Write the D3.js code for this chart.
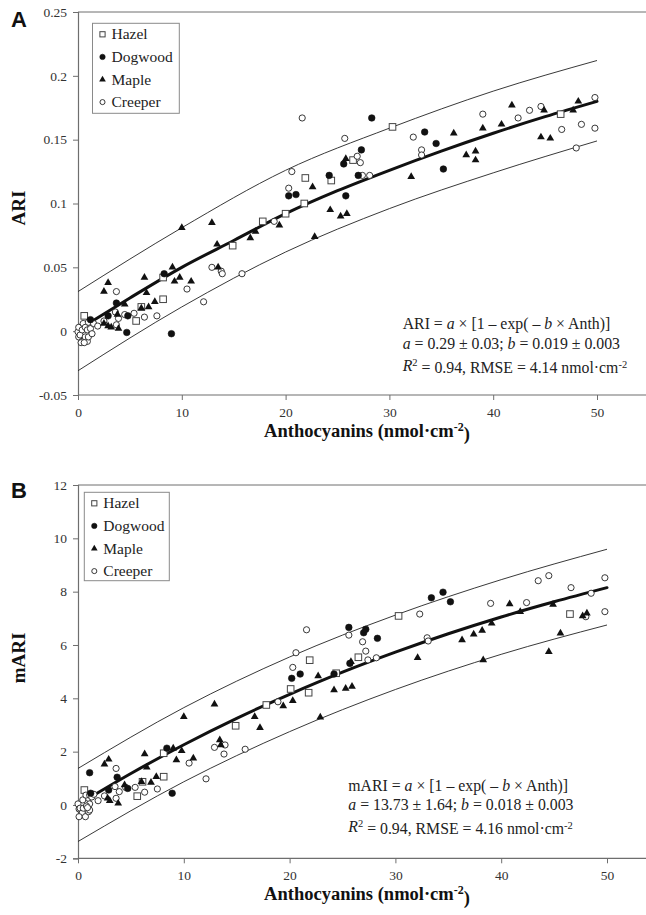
<!DOCTYPE html>
<html><head><meta charset="utf-8">
<script src="https://cdn.jsdelivr.net/npm/d3@7"></script>
<style>
body{margin:0;background:#fff;}
svg{display:block;}
</style></head><body>
<svg id="chart" width="646" height="915"></svg>
<script>
// ---------------- DATA ----------------
const categories = ["Hazel", "Dogwood", "Maple", "Creeper"];
const xTicks = [0, 10, 20, 30, 40, 50];
const ariTicks = [-0.05, 0, 0.05, 0.1, 0.15, 0.2, 0.25];
const ariTickLabels = ["-0.05", "0", "0.05", "0.1", "0.15", "0.2", "0.25"];
const mariTicks = [-2, 0, 2, 4, 6, 8, 10, 12];
const mariTickLabels = ["-2", "0", "2", "4", "6", "8", "10", "12"];

// Panel A (ARI)
const hazelARI = [[0.6,0.012],[5.6,0.008],[6.1,0.019],[8.2,0.042],[8.2,0.025],[14.9,0.067],[17.8,0.086],[20.0,0.092],[21.8,0.100],[21.9,0.120],[24.4,0.118],[26.5,0.134],[30.3,0.160],[46.5,0.170]];
const dogwoodARI = [[1.2,0.009],[2.9,0.012],[3.7,0.022],[4.7,-0.001],[4.8,0.012],[8.3,0.045],[9.0,-0.002],[20.3,0.106],[21.0,0.107],[24.2,0.122],[25.6,0.131],[25.8,0.106],[27.0,0.122],[27.3,0.142],[28.3,0.167],[33.4,0.156],[34.5,0.147],[35.2,0.127]];
const mapleARI = [[2.5,0.031],[2.9,0.038],[2.5,0.006],[2.9,0.004],[3.2,0.003],[3.9,0.002],[3.8,0.013],[4.5,0.021],[6.4,0.042],[6.6,0.030],[6.1,0.018],[6.8,0.019],[7.4,0.023],[9.1,0.050],[9.3,0.039],[9.8,0.042],[10.0,0.081],[10.9,0.039],[12.9,0.085],[13.4,0.068],[13.5,0.050],[16.6,0.073],[17.1,0.078],[19.4,0.083],[22.6,0.113],[22.8,0.074],[24.3,0.095],[25.3,0.090],[25.9,0.092],[25.8,0.135],[32.1,0.121],[36.2,0.155],[37.4,0.138],[38.3,0.141],[38.3,0.134],[39.0,0.159],[40.8,0.162],[41.8,0.177],[44.9,0.173],[44.6,0.152],[45.5,0.151],[47.7,0.173],[48.2,0.180]];
const creeperARI = [[0.0,-0.0005],[0.07,0.003],[0.07,-0.0045],[0.2,-0.003],[0.4,0.001],[0.4,-0.008],[0.5,0.006],[0.7,0.003],[0.7,-0.0045],[0.9,0.001],[0.9,-0.008],[1.0,0.007],[1.0,-0.0045],[1.2,0.002],[1.35,-0.002],[1.5,0.006],[0.3,-0.009],[0.6,-0.009],[1.9,0.004],[2.5,0.008],[3.7,0.031],[3.6,0.015],[3.7,0.005],[3.9,0.010],[4.5,0.013],[5.4,0.014],[6.4,0.011],[7.6,0.012],[10.5,0.033],[12.1,0.023],[12.9,0.050],[13.8,0.047],[13.9,0.045],[15.8,0.045],[18.9,0.086],[20.3,0.112],[20.6,0.125],[21.6,0.167],[25.7,0.151],[26.9,0.137],[27.2,0.132],[27.4,0.122],[28.1,0.122],[32.3,0.152],[33.1,0.142],[33.1,0.138],[39.0,0.170],[42.4,0.167],[43.5,0.173],[44.6,0.176],[46.6,0.158],[48.0,0.1435],[48.5,0.162],[49.8,0.183],[49.8,0.159]];
const fitARI = [[1,0.006],[5,0.026],[10,0.050],[15,0.071],[20,0.092],[25,0.110],[30,0.126],[35,0.141],[40,0.155],[45,0.168],[50,0.180]];
const upperARI = [[0,0.031],[10,0.081],[20,0.126],[30,0.159],[40,0.188],[50,0.212]];
const lowerARI = [[0,-0.031],[10,0.019],[20,0.062],[30,0.096],[40,0.124],[50,0.149]];

// Panel B (mARI)
const hazelMARI = [[0.6,0.56],[5.6,0.33],[6.1,0.87],[8.1,1.06],[8.1,1.94],[14.9,2.97],[17.8,3.75],[20.1,4.35],[21.8,4.21],[21.9,5.43],[24.4,4.94],[26.5,5.54],[30.3,7.09],[46.5,7.16]];
const dogwoodMARI = [[1.1,1.21],[1.2,0.44],[2.9,0.56],[3.7,1.04],[4.7,0.62],[8.4,2.13],[8.9,0.44],[20.2,4.75],[21.0,4.91],[24.2,4.91],[25.6,6.66],[25.7,5.31],[27.0,6.46],[27.2,6.59],[28.3,6.25],[33.4,7.77],[34.5,7.98],[35.2,7.62]];
const mapleMARI = [[2.5,1.53],[2.9,1.71],[2.8,0.25],[3.0,0.16],[3.8,0.06],[4.4,0.75],[6.3,1.91],[6.5,1.41],[6.0,0.87],[6.9,0.84],[7.4,1.06],[9.0,2.13],[9.3,1.69],[9.8,2.03],[10.0,3.31],[10.9,1.75],[12.9,3.78],[13.4,2.44],[13.5,2.25],[16.7,3.31],[17.2,2.90],[19.4,3.71],[20.3,3.91],[22.7,4.84],[22.9,3.29],[24.2,4.31],[25.3,4.37],[25.9,4.44],[25.8,5.37],[32.1,5.52],[36.3,6.19],[37.4,6.40],[38.2,6.54],[38.3,5.44],[39.1,6.81],[40.8,7.54],[41.8,7.25],[44.5,5.75],[44.9,7.52],[45.6,6.44],[47.7,7.09],[48.1,7.19]];
const creeperMARI = [[0.0,0.04],[0.1,-0.15],[0.2,-0.12],[0.4,-0.3],[0.1,-0.44],[0.7,-0.44],[0.45,0.19],[1.0,0.25],[1.1,0.04],[1.0,-0.25],[1.1,-0.19],[0.75,0.37],[1.1,0.37],[0.5,-0.12],[0.8,-0.04],[1.3,0.3],[1.5,0.4],[0.9,-0.1],[1.9,0.16],[2.5,0.34],[3.6,1.37],[3.5,0.69],[3.6,0.25],[3.9,0.50],[4.5,0.66],[5.4,0.66],[6.3,0.48],[7.5,0.60],[10.5,1.57],[12.1,0.98],[12.9,2.16],[13.9,2.25],[13.8,1.91],[15.8,2.09],[18.9,3.87],[20.3,5.16],[20.6,5.71],[21.6,6.57],[25.6,6.37],[26.9,6.12],[27.2,5.77],[27.4,5.44],[28.2,5.52],[32.3,7.16],[33.0,6.27],[33.1,6.15],[39.0,7.56],[42.4,7.59],[43.5,8.41],[44.5,8.60],[46.6,8.15],[48.0,7.06],[48.5,7.94],[49.8,8.52],[49.8,7.25]];
const fitMARI = [[1,0.25],[5,1.18],[10,2.26],[15,3.25],[20,4.15],[25,4.98],[30,5.73],[35,6.42],[40,7.05],[45,7.62],[50,8.15]];
const upperMARI = [[0,1.37],[10,3.65],[20,5.55],[30,7.12],[40,8.45],[50,9.59]];
const lowerMARI = [[0,-1.37],[10,0.87],[20,2.75],[30,4.33],[40,5.65],[50,6.75]];

// ---------------- DRAW ----------------
const svg = d3.select("#chart");
const SERIF = "'Liberation Serif','Times New Roman',Times,serif";
const SANS = "'Liberation Sans',Arial,Helvetica,sans-serif";
const AXIS_COLOR = "#6e6e6e";

function marker(g, kind, cx, cy, s) {
  if (kind === "Hazel") {
    g.append("rect").attr("x", cx - s/2).attr("y", cy - s/2).attr("width", s).attr("height", s)
      .attr("fill", "#fff").attr("stroke", "#444").attr("stroke-width", 1);
  } else if (kind === "Dogwood") {
    g.append("circle").attr("cx", cx).attr("cy", cy).attr("r", s*0.5)
      .attr("fill", "#111").attr("stroke", "#111").attr("stroke-width", 0.6);
  } else if (kind === "Maple") {
    g.append("path").attr("d", d3.symbol(d3.symbolTriangle, s*s*0.5)())
      .attr("transform", `translate(${cx},${cy})`).attr("fill", "#111");
  } else {
    g.append("circle").attr("cx", cx).attr("cy", cy).attr("r", s*0.47)
      .attr("fill", "#fff").attr("stroke", "#222").attr("stroke-width", 0.9);
  }
}

function drawPanel(cfg) {
  const x = d3.scaleLinear().domain([0, 55]).range([78, 78 + 55 * cfg.pxPerX]);
  const y = d3.scaleLinear().domain(cfg.yDomain).range([cfg.bottom, cfg.top]);
  const g = svg.append("g");

  // top frame line
  g.append("line").attr("x1", 78).attr("x2", 646).attr("y1", cfg.top).attr("y2", cfg.top)
    .attr("stroke", AXIS_COLOR).attr("stroke-width", 1);

  // axes
  const ya = g.append("g").attr("transform", "translate(78,0)")
    .call(d3.axisLeft(y).tickValues(cfg.yTicks).tickFormat((d, i) => cfg.yTickLabels[i]).tickSize(5).tickPadding(6));
  const xa = g.append("g").attr("transform", `translate(0,${cfg.bottom})`)
    .call(d3.axisBottom(x).tickValues(xTicks).tickSize(5).tickPadding(7));
  [ya, xa].forEach(a => {
    a.select(".domain").attr("stroke", AXIS_COLOR).attr("stroke-width", 1.2);
    a.selectAll(".tick line").attr("stroke", AXIS_COLOR);
    a.selectAll(".tick text").attr("fill", "#333").style("font-family", SERIF).style("font-size", "13.5px");
  });
  xa.select(".domain").attr("d", `M78,0H646`);

  // lines
  const line = d3.line().x(d => x(d[0])).y(d => y(d[1])).curve(d3.curveMonotoneX);
  [cfg.upper, cfg.lower].forEach(b => g.append("path").attr("d", line(b))
    .attr("fill", "none").attr("stroke", "#222").attr("stroke-width", 0.9));
  g.append("path").attr("d", line(cfg.fit)).attr("fill", "none").attr("stroke", "#111")
    .attr("stroke-width", 3).attr("stroke-linecap", "round");

  // markers
  const mg = g.append("g");
  const order = ["Hazel", "Creeper", "Dogwood", "Maple"];
  order.forEach(k => {
    const data = cfg.series[categories.indexOf(k)];
    const size = k === "Hazel" ? 6.6 : k === "Dogwood" ? 6.6 : k === "Maple" ? 7.2 : 6.6;
    data.forEach(d => marker(mg, k, x(d[0]), y(d[1]), size));
  });

  // legend
  const L = cfg.legend;
  g.append("rect").attr("x", L.x).attr("y", L.y).attr("width", L.w).attr("height", L.h)
    .attr("fill", "#fff").attr("stroke", "#8a8a8a").attr("stroke-width", 1);
  categories.forEach((c, i) => {
    const cy = L.y + 11 + i * 22.6;
    const size = c === "Hazel" ? 5.2 : c === "Maple" ? 6.2 : 5.4;
    marker(g, c, L.x + 10, cy, size);
    g.append("text").attr("x", L.x + 19).attr("y", cy + 5).text(c)
      .style("font-family", SERIF).style("font-size", "15.5px").attr("fill", "#222");
  });

  // panel letter
  g.append("text").attr("x", 11).attr("y", cfg.letterY).text(cfg.letter)
    .style("font-family", SANS).style("font-weight", "bold").style("font-size", "22px").attr("fill", "#111");

  // y label
  g.append("text").attr("transform", `translate(25,${cfg.yLabelY}) rotate(-90)`).attr("text-anchor", "middle")
    .text(cfg.yLabel).style("font-family", SERIF).style("font-weight", "bold").style("font-size", "19px").attr("fill", "#111");

  // x label
  const xl = g.append("text").attr("x", 367).attr("y", cfg.bottom + 42).attr("text-anchor", "middle")
    .style("font-family", SERIF).style("font-weight", "bold").style("font-size", "18.5px").attr("fill", "#111");
  xl.append("tspan").text("Anthocyanins (nmol·cm");
  xl.append("tspan").text("-2").attr("dy", "-0.5em").style("font-size", "12px");
  xl.append("tspan").text(")").attr("dy", "0.5em");

  // equation
  const eq = cfg.eq;
  eq.lines.forEach((parts, i) => {
    const t = g.append("text").attr("x", eq.x).attr("y", eq.ys[i])
      .style("font-family", SERIF).style("font-size", "15.8px").attr("fill", "#222");
    let shifted = false;
    parts.forEach(p => {
      const ts = t.append("tspan").text(p[0]);
      if (p[1] === "i") ts.style("font-style", "italic");
      if (p[1] === "sup") { ts.attr("dy", "-0.45em").style("font-size", "10.5px"); shifted = true; }
      else if (shifted) { ts.attr("dy", "0.45em"); shifted = false; }
    });
  });
}

drawPanel({
  letter: "A", letterY: 27, yLabel: "ARI", yLabelY: 208,
  top: 12, bottom: 395, pxPerX: 10.38,
  yDomain: [-0.05, 0.25], yTicks: ariTicks, yTickLabels: ariTickLabels,
  series: [hazelARI, dogwoodARI, mapleARI, creeperARI],
  fit: fitARI, upper: upperARI, lower: lowerARI,
  legend: {x: 92.5, y: 23.3, w: 86.8, h: 90},
  eq: {x: 402.7, ys: [329.3, 349, 370.5], lines: [
    [["ARI = "], ["a", "i"], [" × [1 – exp( – "], ["b", "i"], [" × Anth)]"]],
    [["a", "i"], [" = 0.29 ± 0.03; "], ["b", "i"], [" = 0.019 ± 0.003"]],
    [["R", "i"], ["2", "sup"], [" = 0.94, RMSE = 4.14 nmol·cm"], ["-2", "sup"]]
  ]}
});

drawPanel({
  letter: "B", letterY: 498, yLabel: "mARI", yLabelY: 658,
  top: 485, bottom: 858.3, pxPerX: 10.58,
  yDomain: [-2, 12], yTicks: mariTicks, yTickLabels: mariTickLabels,
  series: [hazelMARI, dogwoodMARI, mapleMARI, creeperMARI],
  fit: fitMARI, upper: upperMARI, lower: lowerMARI,
  legend: {x: 84.3, y: 492.3, w: 85, h: 88.4},
  eq: {x: 348.3, ys: [791, 809.5, 831.5], lines: [
    [["mARI = "], ["a", "i"], [" × [1 – exp( – "], ["b", "i"], [" × Anth)]"]],
    [["a", "i"], [" = 13.73 ± 1.64; "], ["b", "i"], [" = 0.018 ± 0.003"]],
    [["R", "i"], ["2", "sup"], [" = 0.94, RMSE = 4.16 nmol·cm"], ["-2", "sup"]]
  ]}
});
</script>
</body></html>
